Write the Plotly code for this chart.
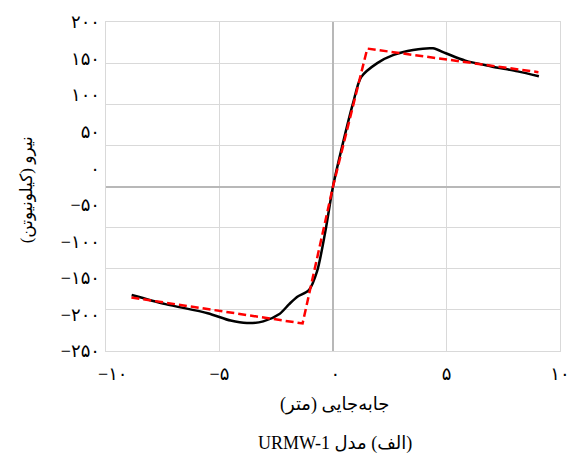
import plotly.graph_objects as go

# Black curve (analysis) - displacement (m), force (kN)
curve_x = [-8.87, -7.38, -5.52, -4.51, -3.79, -3.07, -2.36, -1.93, -1.57, -1.06, -0.70, -0.34, 0.0,
           0.44, 0.88, 1.24, 1.95, 2.67, 3.53, 4.40, 4.97, 5.83, 6.98, 8.13, 9.07]
curve_y = [-132, -143, -154, -163, -166, -164, -155, -143, -134, -126, -103, -55, 0,
           53, 101, 133, 150, 160, 166, 168, 162, 153, 146, 140, 134]

# Red dashed bilinear idealisation
bil_x = [-8.88, -1.34, 0.0, 1.51, 9.05]
bil_y = [-135, -166.5, 0.0, 167.7, 139]

x_ticks = [-10, -5, 0, 5, 10]
x_tick_text = ["\u00a0\u00a0\u00a0−۱۰", "−۵", "\u00a0۰", "۵", "۱۰"]
y_grid = [-200, -150, -100, -50, 0, 50, 100, 150, 200]
y_label_vals = [-250, -200, -150, -100, -50, 0, 50, 100, 150, 200]
y_label_text = ["−۲۵۰", "−۲۰۰", "−۱۵۰", "−۱۰۰", "−۵۰", "۰", "۵۰", "۱۰۰", "۱۵۰", "۲۰۰"]

x_title = "\u202bجابه\u200cجایی (متر)\u202c"
y_title = "\u202bنیرو (کیلونیوتن)\u202c"
caption = "\u202b(الف) مدل URMW-1\u202c"

FONT = "Liberation Serif, DejaVu Sans, serif"

fig = go.Figure()
fig.add_trace(go.Scatter(x=curve_x, y=curve_y, mode="lines",
                         line=dict(color="#000000", width=2.5, shape="spline", smoothing=0.8),
                         showlegend=False, hoverinfo="skip"))
fig.add_trace(go.Scatter(x=bil_x, y=bil_y, mode="lines",
                         line=dict(color="#ff0000", width=2.5, dash="8px,4px"),
                         showlegend=False, hoverinfo="skip"))
# invisible trace to activate the label axis
fig.add_trace(go.Scatter(x=[0], y=[0], yaxis="y2", mode="markers",
                         marker=dict(opacity=0), showlegend=False, hoverinfo="skip"))

fig.update_layout(
    autosize=True,
    margin=dict(l=106, r=12, t=17, b=111),
    paper_bgcolor="white", plot_bgcolor="white",
    font=dict(family=FONT, color="#000000", size=15),
    xaxis=dict(range=[-10, 10], tickvals=x_ticks, ticktext=x_tick_text,
               showgrid=True, gridcolor="#d9d9d9", gridwidth=1,
               zeroline=True, zerolinecolor="#b8b8b8", zerolinewidth=2,
               showline=True, mirror=True, linecolor="#d9d9d9", linewidth=1,
               ticks="", ticklabelstandoff=6, tickfont=dict(size=18)),
    yaxis=dict(range=[-200, 200], tickvals=y_grid, showticklabels=False,
               showgrid=True, gridcolor="#d9d9d9", gridwidth=1,
               zeroline=True, zerolinecolor="#b8b8b8", zerolinewidth=2,
               showline=True, mirror=True, linecolor="#d9d9d9", linewidth=1,
               ticks=""),
    yaxis2=dict(range=[-250, 200], overlaying="y", side="left",
                tickvals=y_label_vals, ticktext=y_label_text,
                showgrid=False, zeroline=False, showline=False,
                ticks="", ticklabelstandoff=5, tickfont=dict(size=18)),
    annotations=[
        dict(text=y_title, xref="paper", yref="paper", x=-0.175, y=0.49,
             xanchor="center", yanchor="middle", textangle=-90, showarrow=False,
             font=dict(size=17)),
        dict(text=x_title, xref="paper", yref="paper", x=0.504, y=-0.162,
             xanchor="center", yanchor="middle", showarrow=False, font=dict(size=18)),
        dict(text=caption, xref="paper", yref="paper", x=0.504, y=-0.28,
             xanchor="center", yanchor="middle", showarrow=False, font=dict(size=18)),
    ],
)

post = (
    "document.documentElement.style.overflow='hidden';"
    "document.body.style.margin='0px';document.body.style.overflow='hidden';"
    "var gd=document.getElementById('{plot_id}');"
    "gd.style.width='100vw';gd.style.height='100vh';"
    "Plotly.Plots.resize(gd);"
)
fig.write_html("out.html", config={"displayModeBar": False, "responsive": True},
               post_script=post)
